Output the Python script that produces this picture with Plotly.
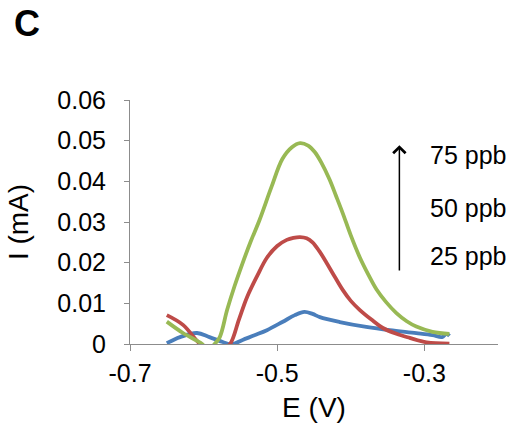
import plotly.graph_objects as go

# Square-wave voltammograms: current vs potential at three concentrations
E_25 = [-0.650, -0.632, -0.609, -0.592, -0.574, -0.562, -0.547, -0.530, -0.514,
        -0.493, -0.476, -0.463, -0.452, -0.442, -0.415, -0.379, -0.347, -0.311,
        -0.289, -0.276, -0.270, -0.266]
I_25 = [0.0002, 0.0017, 0.0027, 0.0017, 0.0005, -0.0001, 0.0010, 0.0022, 0.0034,
        0.0054, 0.0071, 0.0079, 0.0074, 0.0066, 0.0054, 0.0042, 0.0034, 0.0027,
        0.0022, 0.0017, 0.0025, 0.0020]

E_50 = [-0.650, -0.628, -0.605, -0.590, -0.575, -0.564, -0.552, -0.541, -0.527,
        -0.514, -0.500, -0.487, -0.478, -0.469, -0.460, -0.452, -0.443, -0.433,
        -0.422, -0.411, -0.400, -0.388, -0.372, -0.357, -0.338, -0.320, -0.297,
        -0.266]
I_50 = [0.0071, 0.0047, 0.0000, -0.0020, -0.0015, 0.0000, 0.0060, 0.0115, 0.0168,
        0.0212, 0.0241, 0.0256, 0.0261, 0.0263, 0.0260, 0.0250, 0.0229, 0.0200,
        0.0166, 0.0133, 0.0106, 0.0084, 0.0060, 0.0040, 0.0025, 0.0015, 0.0004,
        0.0001]

E_75 = [-0.650, -0.628, -0.602, -0.594, -0.585, -0.578, -0.568, -0.558, -0.547,
        -0.536, -0.524, -0.508, -0.493, -0.480, -0.469, -0.458, -0.449, -0.440,
        -0.429, -0.420, -0.411, -0.400, -0.388, -0.376, -0.365, -0.352, -0.338,
        -0.324, -0.311, -0.289, -0.266]
I_75 = [0.0055, 0.0027, 0.0000, -0.0015, 0.0000, 0.0017, 0.0084, 0.0142, 0.0199,
        0.0252, 0.0305, 0.0385, 0.0455, 0.0484, 0.0494, 0.0488, 0.0472, 0.0446,
        0.0405, 0.0364, 0.0322, 0.0267, 0.0214, 0.0170, 0.0134, 0.0103, 0.0076,
        0.0056, 0.0043, 0.0030, 0.0025]

series = [
    ("25 ppb", E_25, I_25, "#4A7EBB"),
    ("50 ppb", E_50, I_50, "#BE4B48"),
    ("75 ppb", E_75, I_75, "#98B954"),
]

X_TICKS = [-0.7, -0.5, -0.3]
X_TICK_TEXT = ["-0.7", "-0.5", "-0.3"]
Y_TICKS = [0, 0.01, 0.02, 0.03, 0.04, 0.05, 0.06]
Y_TICK_TEXT = ["0", "0.01", "0.02", "0.03", "0.04", "0.05", "0.06"]

FONT = "Liberation Sans, Arial, sans-serif"
AXIS_GREY = "#8C8C8C"
TICK_SIZE = 25

fig = go.Figure()
for name, e, i, color in series:
    fig.add_trace(go.Scatter(
        x=e, y=i, mode="lines", name=name,
        line=dict(color=color, width=3.8, shape="spline", smoothing=1.0),
    ))

fig.update_layout(
    width=514, height=423,
    margin=dict(l=130, r=16, t=100, b=79),
    paper_bgcolor="white", plot_bgcolor="white",
    showlegend=False,
    font=dict(family=FONT, color="black"),
    xaxis=dict(
        range=[-0.7, -0.2], tickvals=X_TICKS, ticktext=X_TICK_TEXT,
        automargin=False,
        showgrid=False, zeroline=False, showline=True, linecolor=AXIS_GREY,
        linewidth=1, ticks="outside", ticklen=6, tickcolor=AXIS_GREY,
        ticklabelstandoff=1,
        tickfont=dict(size=TICK_SIZE, family=FONT, color="black"),
        title=dict(text="E (V)", font=dict(size=28, family=FONT), standoff=22),
    ),
    yaxis=dict(
        range=[0, 0.06], tickvals=Y_TICKS, ticktext=Y_TICK_TEXT,
        automargin=False,
        showgrid=False, zeroline=False, showline=True, linecolor=AXIS_GREY,
        linewidth=1, ticks="outside", ticklen=5, tickcolor=AXIS_GREY,
        ticklabelstandoff=13,
        tickfont=dict(size=TICK_SIZE, family=FONT, color="black"),
        title=dict(text="I (mA)", font=dict(size=28, family=FONT), standoff=20),
    ),
)

# Arrow showing increasing concentration
fig.add_annotation(
    x=-0.334, y=0.0489, ax=-0.334, ay=0.0177,
    xref="x", yref="y", axref="x", ayref="y",
    showarrow=True, arrowhead=4, arrowsize=1.6, arrowwidth=1.5,
    arrowcolor="black", text="",
)

for label, yv in [("75 ppb", 0.0464), ("50 ppb", 0.0334), ("25 ppb", 0.0216)]:
    fig.add_annotation(
        x=-0.2945, y=yv, xref="x", yref="y", text=label, showarrow=False,
        xanchor="left", yanchor="middle",
        font=dict(size=TICK_SIZE, family=FONT, color="black"),
    )

# Panel letter
fig.add_annotation(
    x=(12 - 130) / 368, y=1 + (100 - 1) / 244, xref="paper", yref="paper",
    text="<b>C</b>", showarrow=False, xanchor="left", yanchor="top",
    font=dict(size=36, family=FONT, color="black"),
)

fig.write_html("out.html")
